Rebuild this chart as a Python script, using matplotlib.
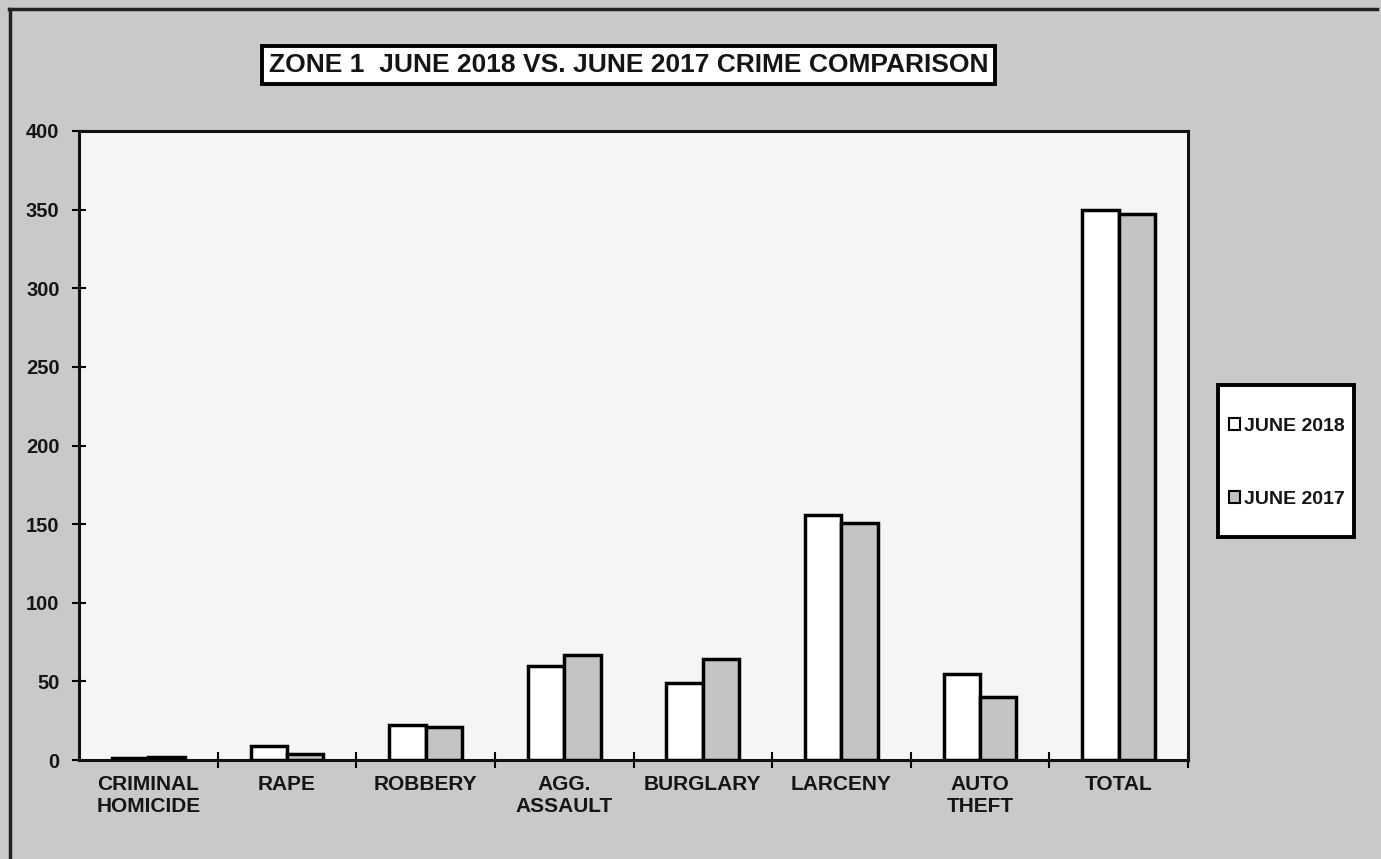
import matplotlib
matplotlib.use("Agg")
import matplotlib.pyplot as plt
from matplotlib.patches import Rectangle, Patch
import numpy as np

categories = ["CRIMINAL\nHOMICIDE", "RAPE", "ROBBERY", "AGG.\nASSAULT",
              "BURGLARY", "LARCENY", "AUTO\nTHEFT", "TOTAL"]
june_2018 = [1, 9, 22, 60, 49, 156, 55, 350]
june_2017 = [2, 4, 21, 67, 64, 151, 40, 347]
series_labels = ["JUNE 2018", "JUNE 2017"]
y_ticks = [0, 50, 100, 150, 200, 250, 300, 350, 400]
title = "ZONE 1  JUNE 2018 VS. JUNE 2017 CRIME COMPARISON"

FONT = "Liberation Sans"
INK = "#151515"
GRAY_FILL = "#c4c4c4"
W, H = 1381, 859
fig = plt.figure(figsize=(W / 100, H / 100), dpi=100)
fig.patch.set_facecolor("#c9c9c9")

# outer frame lines (top and left)
fig.add_artist(plt.Line2D([9 / W, 1 - 4 / W], [1 - 9 / H, 1 - 9 / H], color="#222222", lw=2.5))
fig.add_artist(plt.Line2D([10 / W, 10 / W], [0, 1 - 9 / H], color="#222222", lw=2.5))

L, R, T, B = 79, 1188, 131, 760
ax = fig.add_axes([L / W, (H - B) / H, (R - L) / W, (B - T) / H])
ax.set_facecolor("#f5f5f5")

x = np.arange(len(categories))
bw = 0.262
ax.bar(x - bw / 2, june_2018, bw, color="white", edgecolor="black", linewidth=2.5,
       label=series_labels[0], zorder=3)
ax.bar(x + bw / 2, june_2017, bw, color=GRAY_FILL, edgecolor="black", linewidth=2.5,
       label=series_labels[1], zorder=3)

ax.set_xlim(-0.5, len(categories) - 0.5)
ax.set_ylim(0, 400)
ax.set_yticks(y_ticks)
ax.set_yticklabels([str(v) for v in y_ticks], fontfamily=FONT, fontweight="bold",
                   fontsize=14.5, color=INK)
ax.set_xticks(x)
ax.set_xticklabels(categories, fontfamily=FONT, fontweight="bold", fontsize=15,
                   color=INK, linespacing=1.15, va="top")
ax.tick_params(axis="x", length=0, pad=11)
ax.set_xticks(np.arange(0.5, len(categories) - 0.5 + 1, 1.0), minor=True)
ax.tick_params(axis="x", which="minor", direction="inout", length=12, width=1.5)
ax.tick_params(axis="y", direction="inout", length=10, width=1.5, pad=9)
for s in ax.spines.values():
    s.set_linewidth(2.2)
    s.set_color("#111111")

# title box
fig.text(628.5 / W, 1 - 65 / H, title, ha="center", va="center", fontfamily=FONT,
         fontweight="bold", fontsize=19, color=INK,
         bbox=dict(boxstyle="square,pad=0.25", facecolor="white", edgecolor="black", linewidth=2.8))

# legend
fig.add_artist(Rectangle((1218 / W, (H - 537) / H), 136 / W, 152 / H, transform=fig.transFigure,
                         facecolor="white", edgecolor="black", linewidth=2.8, zorder=5))
handles = [Patch(facecolor="white", edgecolor="black", linewidth=1.5),
           Patch(facecolor=GRAY_FILL, edgecolor="black", linewidth=1.5)]
leg = fig.legend(handles, series_labels, loc="center",
                 bbox_to_anchor=(1287 / W, 1 - 463 / H), frameon=False,
                 prop=dict(family=FONT, weight="bold", size=14),
                 handlelength=0.55, handleheight=0.55, handletextpad=0.25,
                 labelspacing=2.9, borderpad=0, borderaxespad=0)
leg.set_zorder(6)
for t in leg.get_texts():
    t.set_color(INK)

fig.savefig("out.png", dpi=100, facecolor=fig.get_facecolor())
